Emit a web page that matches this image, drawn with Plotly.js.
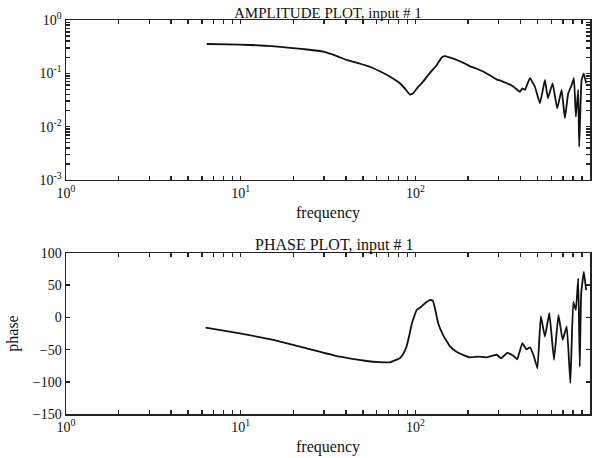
<!DOCTYPE html>
<html><head><meta charset="utf-8">
<script src="https://cdn.plot.ly/plotly-3.0.1.min.js"></script>
<style>html,body{margin:0;padding:0;background:#fff;}#chart{width:597px;height:458px;}</style>
</head><body><div id="chart"></div>
<script>
// Amplitude plot data
const ampFreq = [6.4, 8.5, 11.3, 15, 19.2, 24, 29.7, 35, 40.4, 47, 55, 63, 71.4, 81.5, 88, 93, 97, 102, 110, 116, 125, 132, 142, 148, 160, 173, 190, 206, 225, 246, 270, 293, 310, 334, 360, 383, 397, 410, 424, 453, 484, 517, 552, 574, 611, 649, 688, 718, 750, 785, 809, 830, 856, 867, 895, 922, 950];
const ampVal  = [0.355, 0.35, 0.34, 0.325, 0.30, 0.28, 0.255, 0.215, 0.178, 0.155, 0.133, 0.108, 0.087, 0.065, 0.05, 0.040, 0.042, 0.052, 0.068, 0.085, 0.115, 0.14, 0.20, 0.21, 0.195, 0.178, 0.155, 0.135, 0.122, 0.107, 0.09, 0.076, 0.072, 0.065, 0.058, 0.049, 0.045, 0.052, 0.049, 0.081, 0.056, 0.0274, 0.075, 0.034, 0.065, 0.022, 0.049, 0.0143, 0.042, 0.060, 0.081, 0.0154, 0.049, 0.0042, 0.075, 0.10, 0.065];

// Phase plot data
const phFreq = [6.3, 9.9, 15.4, 23.9, 37, 52.7, 62, 71.4, 81.5, 85.5, 89, 92.5, 95.6, 101.8, 107, 114, 121, 126, 130, 135, 144, 158, 171, 190, 205, 230, 255, 292, 310, 336, 365, 383, 410, 432, 453, 478, 500, 523, 552, 585, 622, 660, 697, 736, 772, 802, 830, 856, 874, 890, 922, 950];
const phVal  = [-16, -24.7, -35, -48, -61, -67.7, -69.5, -69.8, -63.5, -56, -45.5, -27, -9, 11.5, 15.7, 22.4, 27, 26, 12, -8.7, -27, -45, -53, -59, -62, -61, -62, -58, -63.5, -55, -60, -65, -40, -49.6, -46.5, -61, -79, 2, -30, 7, -66, 4, -35, -14, -102, 24, 11.5, 60.7, -76.5, 37, 71, 42.5];

// Tick labels
const xMajor = [1, 10, 100, 1000];
const xMajorText = ['10<sup>0</sup>', '10<sup>1</sup>', '10<sup>2</sup>', '10<sup>3</sup>'];
const yAmpMajor = [0.001, 0.01, 0.1, 1];
const yAmpMajorText = ['10<sup>-3</sup>', '10<sup>-2</sup>', '10<sup>-1</sup>', '10<sup>0</sup>'];
const phaseTicks = [-150, -100, -50, 0, 50, 100];

function minorLog(majors) {
  const vals = [];
  for (let i = 0; i < majors.length - 1; i++) {
    for (let k = 2; k <= 9; k++) vals.push(majors[i] * k);
  }
  return vals;
}
const xMinor = minorLog(xMajor);
const yMinor = minorLog(yAmpMajor);

const FONT = 'Liberation Serif, Times New Roman, serif';
const axisBase = {
  showline: true, linecolor: '#222', linewidth: 1.5, mirror: 'ticks',
  ticks: 'inside', ticklen: 4, tickwidth: 1.5, tickcolor: '#222',
  showgrid: false, zeroline: false,
  tickfont: {family: FONT, size: 14, color: '#111'}
};
const minorBase = {ticks: 'inside', ticklen: 4, tickwidth: 1.5, tickcolor: '#222', showgrid: false, tickmode: 'array'};
const axTitleFont = {family: FONT, size: 16, color: '#111'};

const traces = [
  {x: ampFreq, y: ampVal, xaxis: 'x', yaxis: 'y', mode: 'lines',
   line: {color: '#111', width: 1.8, shape: 'spline', smoothing: 0.3}, hoverinfo: 'skip'},
  {x: phFreq, y: phVal, xaxis: 'x2', yaxis: 'y2', mode: 'lines',
   line: {color: '#111', width: 1.8, shape: 'spline', smoothing: 0.3}, hoverinfo: 'skip'}
];

const layout = {
  width: 597, height: 458,
  margin: {l: 66, r: 7, t: 20, b: 44},
  paper_bgcolor: '#fff', plot_bgcolor: '#fff',
  showlegend: false,
  font: {family: FONT, color: '#111'},
  xaxis: Object.assign({}, axisBase, {type: 'log', range: [0, 3], domain: [0, 1], anchor: 'y',
    tickmode: 'array', tickvals: xMajor, ticktext: xMajorText,
    minor: Object.assign({}, minorBase, {tickvals: xMinor}),
    title: {text: 'frequency', font: axTitleFont, standoff: 6}}),
  yaxis: Object.assign({}, axisBase, {type: 'log', range: [-3, 0], domain: [0.594, 1], anchor: 'x',
    tickmode: 'array', tickvals: yAmpMajor, ticktext: yAmpMajorText,
    minor: Object.assign({}, minorBase, {tickvals: yMinor})}),
  xaxis2: Object.assign({}, axisBase, {type: 'log', range: [0, 3], domain: [0, 1], anchor: 'y2',
    tickmode: 'array', tickvals: xMajor, ticktext: xMajorText,
    minor: Object.assign({}, minorBase, {tickvals: xMinor}),
    title: {text: 'frequency', font: axTitleFont, standoff: 6}}),
  yaxis2: Object.assign({}, axisBase, {type: 'linear', range: [-150, 100], domain: [0, 0.4086], anchor: 'x2',
    tickmode: 'array', tickvals: phaseTicks,
    title: {text: 'phase', font: axTitleFont, standoff: 10}}),
  annotations: [
    {text: 'AMPLITUDE PLOT, input # 1', xref: 'paper', yref: 'paper', x: 0.5, y: 1, yanchor: 'bottom',
     xanchor: 'center', showarrow: false, yshift: -3, font: {family: FONT, size: 15, color: '#111'}},
    {text: 'PHASE PLOT, input # 1', xref: 'paper', yref: 'paper', x: 0.5, y: 0.4086, yanchor: 'bottom',
     xanchor: 'center', showarrow: false, xshift: 6, yshift: -3, font: {family: FONT, size: 16, color: '#111'}}
  ]
};

Plotly.newPlot('chart', traces, layout, {displayModeBar: false, staticPlot: true});
</script>
</body></html>
